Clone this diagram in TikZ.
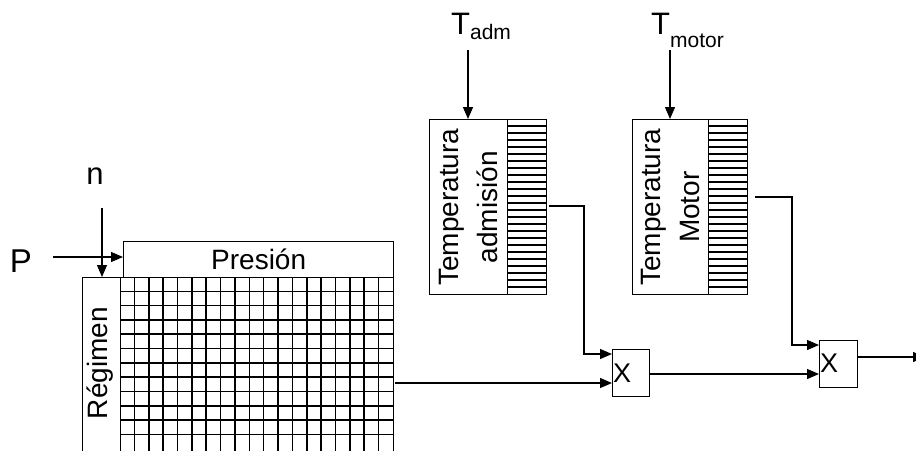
\documentclass[tikz,border=0pt]{standalone}
\usepackage{fontspec}
\setmainfont{Liberation Sans}
\usetikzlibrary{arrows.meta}
\begin{document}
\begin{tikzpicture}[x=1pt,y=-1pt,
  box/.style={draw, line width=1.3pt, inner sep=0pt, fill=white},
  arr/.style={line width=1.3pt, -{Triangle[length=12pt,width=10pt]}},
  ln/.style={line width=1.3pt},
  gridln/.style={line width=1.6pt},
  hatchln/.style={line width=1.1pt},
  big/.style={font=\fontsize{28}{39}\selectfont, inner sep=0pt},
  lab/.style={font=\fontsize{31}{31}\selectfont, inner sep=0pt},
  mult/.style={font=\fontsize{27}{27}\selectfont, inner sep=0pt}]
\useasboundingbox (0,0) rectangle (916,450);
\fill[white] (0,0) rectangle (916,450);

% map: grid
\node[box, minimum width=273pt, minimum height=200pt, anchor=north west] (grid) at (120,277) {};
\foreach \i in {1,...,18} \draw[gridln] (120+\i*14.368,277) -- (120+\i*14.368,478);
\foreach \j in {1,...,11} \draw[gridln] (120,277+\j*14.3) -- (393,277+\j*14.3);

% axes boxes
\node[box, big, minimum width=270pt, minimum height=36pt, anchor=north west] (pres) at (123,241) {Presión};
\node[box, minimum width=38pt, minimum height=200pt, anchor=north west] (reg) at (82,277) {};
\node[big, rotate=90] (regt) at (100,363) {Régimen};

% inputs P and n
\node[lab, font=\fontsize{33}{33}\selectfont] (P) at (21,261) {P};
\node[lab] (n) at (95,176) {n};
\coordinate (pin) at (53,257);
\coordinate (nin) at (102,208);
\draw[arr] (pin) -- (pin -| pres.west);
\draw[arr] (nin) -- (nin |- reg.north);

% intake temperature correction
\node[box, minimum width=78pt, minimum height=175pt, anchor=north west] (admL) at (429,119) {};
\node[box, minimum width=39pt, minimum height=175pt, anchor=north west] (admH) at (507,119) {};
\foreach \k in {1,...,24} \draw[hatchln] (507,119+\k*7) -- (546,119+\k*7);
\node[big, rotate=90, align=center] (admt) at (admL.center) {Temperatura\\admisión};
\node[lab, anchor=base west] (Tadm) at (451,34) {T\raisebox{-5pt}{\fontsize{21}{21}\selectfont adm}};
\coordinate (tain) at (468,50);
\draw[arr] (tain) -- (tain |- admL.north);

% engine temperature correction
\node[box, minimum width=76pt, minimum height=175pt, anchor=north west] (motL) at (632,119) {};
\node[box, minimum width=39pt, minimum height=175pt, anchor=north west] (motH) at (708,119) {};
\foreach \k in {1,...,24} \draw[hatchln] (708,119+\k*7) -- (747,119+\k*7);
\node[big, rotate=90, align=center] (mott) at (motL.center) {Temperatura\\Motor};
\node[lab, anchor=base west] (Tmot) at (651,34) {T\raisebox{-13pt}{\fontsize{21}{21}\selectfont motor}};
\coordinate (tmin) at (670,50);
\draw[arr] (tmin) -- (tmin |- motL.north);

% multipliers
\node[box, minimum width=37pt, minimum height=47pt, anchor=north west] (x1) at (612,349) {};
\node[mult] (x1t) at (622,373) {X};
\node[box, minimum width=38pt, minimum height=47pt, anchor=north west] (x2) at (819,340) {};
\node[mult] (x2t) at (829,363) {X};

% connectors
\coordinate (aout) at (549,206);
\coordinate (ain) at (612,354);
\draw[arr] (aout) -- (584,206) -- (584,354) -- (ain);
\coordinate (gout) at (395,383);
\draw[arr] (gout) -- (gout -| x1.west);
\coordinate (x1o) at (649,374);
\draw[arr] (x1o) -- (x1o -| x2.west);
\coordinate (mout) at (755,197);
\coordinate (min) at (819,345);
\draw[arr] (mout) -- (792,197) -- (792,345) -- (min);
\coordinate (x2o) at (857,357);
\coordinate (fin) at (925,357);
\draw[arr] (x2o) -- (fin);
\end{tikzpicture}
\end{document}
